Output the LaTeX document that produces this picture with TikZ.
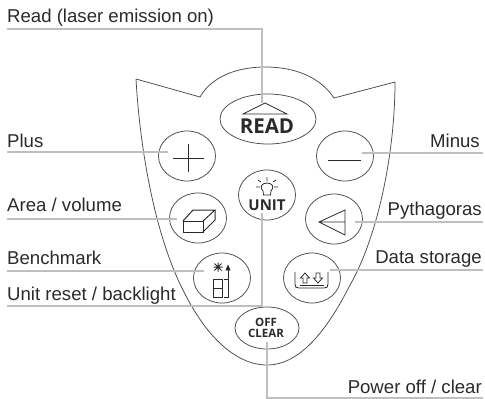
\documentclass[tikz,border=0pt]{standalone}
\usepackage{fontspec}
\setmainfont{Liberation Sans}
\newfontfamily\keyfont{Open Sans}
\definecolor{leadgray}{HTML}{BFBFBF}
\definecolor{inkgray}{HTML}{2A2A2A}
\tikzset{
    key/.style={draw=inkgray!85,line width=0.75pt,ellipse,minimum width=57pt,minimum height=50pt,inner sep=0pt},
    keytext/.style={font=\keyfont\bfseries\fontsize{#1}{#1}\selectfont,text=inkgray,inner sep=0pt,align=center},
    lbl/.style={font=\fontsize{18.6}{20}\selectfont,text=inkgray,inner sep=0pt},
    lead/.style={draw=leadgray,line width=2pt},
    icon/.style={draw=inkgray,line width=0.8pt,line join=miter},
}
\usetikzlibrary{shapes.geometric}
\begin{document}
\begin{tikzpicture}[x=1pt,y=-1pt]
    \useasboundingbox (0,0) rectangle (485,399);

    % body
    \draw[inkgray!85,line width=0.75pt] (136,79) -- (200,97)
        .. controls (212,76) and (238,67) .. (265,67)
        .. controls (295,67) and (320,77) .. (334,98)
        -- (395,82)
        .. controls (395,150) and (379,235) .. (349,287)
        .. controls (327,330) and (300,365) .. (267,365)
        .. controls (235,365) and (205,335) .. (183,290)
        .. controls (155,235) and (140,150) .. (136,79);

    % keys
    \node[key,minimum width=96pt] (read) at (268,119) {};
    \node[key] (plus) at (187,156) {};
    \node[key] (minus) at (345,156) {};
    \node[key] (unit) at (267,195) {};
    \node[key] (area) at (198,218) {};
    \node[key] (pyth) at (334,219) {};
    \node[key] (bench) at (222,278) {};
    \node[key] (store) at (312,278) {};
    \node[key,minimum width=64pt,minimum height=42pt] (off) at (267,328) {};

    % key faces
    \node[keytext=20.5] (readtxt) at (267,126) {READ};
    \node[keytext=15] (unittxt) at (267,205.5) {UNIT};
    \node[keytext=11.5] (offtxt) at (266,328) {OFF\\[-1pt]CLEAR};
    \draw[icon] (243,114) -- (265,103) -- (287,114) -- cycle;
    \draw[icon] (173,158) -- (204,158) (188,144) -- (188,172);
    \draw[icon] (328,160) -- (361,160);

    % sun
    \draw[icon] (263,191) .. controls (259,187) and (262,183) .. (267,183)
        .. controls (272,183) and (275,187) .. (271,191) -- (270.5,195) -- (263.5,195) -- cycle;
    \draw[icon] (267,181) -- (267,177) (260,187) -- (256,187) (274,187) -- (278,187)
        (261,182) -- (258,180) (273,182) -- (276,180);

    % box
    \draw[icon,line width=1pt] (183,221) rectangle (203,232);
    \draw[icon,line width=1pt] (183,221) -- (193,210) -- (215,210) -- (203,221);
    \draw[icon,line width=1pt] (203,232) -- (215,220) -- (215,210);

    % triangle
    \draw[icon] (319,222) -- (345,210) -- (345,235) -- cycle (319,222) -- (345,222);

    % benchmark
    \draw[icon] (213,279) rectangle (222,288) (213,288) rectangle (222,297);
    \draw[icon] (224,279) -- (228,279) -- (228,297) -- (224,297);
    \draw[icon] (228,270) -- (228,279);
    \draw[icon,line width=1pt] (214.5,263.5) -- (221.5,270.5) (221.5,263.5) -- (214.5,270.5) (218,262.5) -- (218,271.5) (213.5,267) -- (222.5,267);
    \draw[icon,fill=inkgray] (226,270) -- (228,265.5) -- (230,270) -- cycle;

    % storage
    \draw[icon] (295,272) -- (295,284) .. controls (295,287) and (296,288) .. (299,288) -- (324,288) .. controls (327,288) and (328,287) .. (328,284) -- (328,272);
    \draw[icon] (300,285.5) -- (324,285.5);
    \draw[icon] (303,283) -- (303,278) -- (300.5,278) -- (305,273) -- (309.5,278) -- (307,278) -- (307,283) -- cycle;
    \draw[icon] (316,273) -- (316,278) -- (313.5,278) -- (318,283) -- (322.5,278) -- (320,278) -- (320,273) -- cycle;

    % labels
    \node[lbl,anchor=base west] (lread) at (7,22.5) {Read (laser emission on)};
    \node[lbl,anchor=base west] (lplus) at (7,147.5) {Plus};
    \node[lbl,anchor=base east] (lminus) at (480,147) {Minus};
    \node[lbl,anchor=base west] (larea) at (7,211.5) {Area / volume};
    \node[lbl,anchor=base east] (lpyth) at (482,215.5) {Pythagoras};
    \node[lbl,anchor=base west] (lbench) at (7,264.5) {Benchmark};
    \node[lbl,anchor=base east] (lstore) at (482,263.5) {Data storage};
    \node[lbl,anchor=base west] (lunit) at (7,300.5) {Unit reset / backlight};
    \node[lbl,anchor=base east] (loff) at (482,393) {Power off / clear};

    % leader ends
    \coordinate (rs) at (7,29);
    \coordinate (re) at (262,103);
    \coordinate (ps) at (7,152.3);
    \coordinate (pe) at (168,152.3);
    \coordinate (ms) at (483,153.3);
    \coordinate (me) at (362,153.3);
    \coordinate (as) at (7,219);
    \coordinate (ae) at (177,219);
    \coordinate (ys) at (483,221.5);
    \coordinate (ye) at (355,221.5);
    \coordinate (bs) at (7,270.7);
    \coordinate (be) at (204,270.7);
    \coordinate (ds) at (483,270);
    \coordinate (de) at (330,270);
    \coordinate (us) at (7,306.3);
    \coordinate (ue) at (262,213);
    \coordinate (os) at (483,398);
    \coordinate (oe) at (267,342);

    \draw[lead] (rs) -| (re);
    \draw[lead] (ps) -- (pe);
    \draw[lead] (ms) -- (me);
    \draw[lead] (as) -- (ae);
    \draw[lead] (ys) -- (ye);
    \draw[lead] (bs) -- (be);
    \draw[lead] (ds) -- (de);
    \draw[lead] (us) -| (ue);
    \draw[lead] (os) -| (oe);
\end{tikzpicture}
\end{document}
